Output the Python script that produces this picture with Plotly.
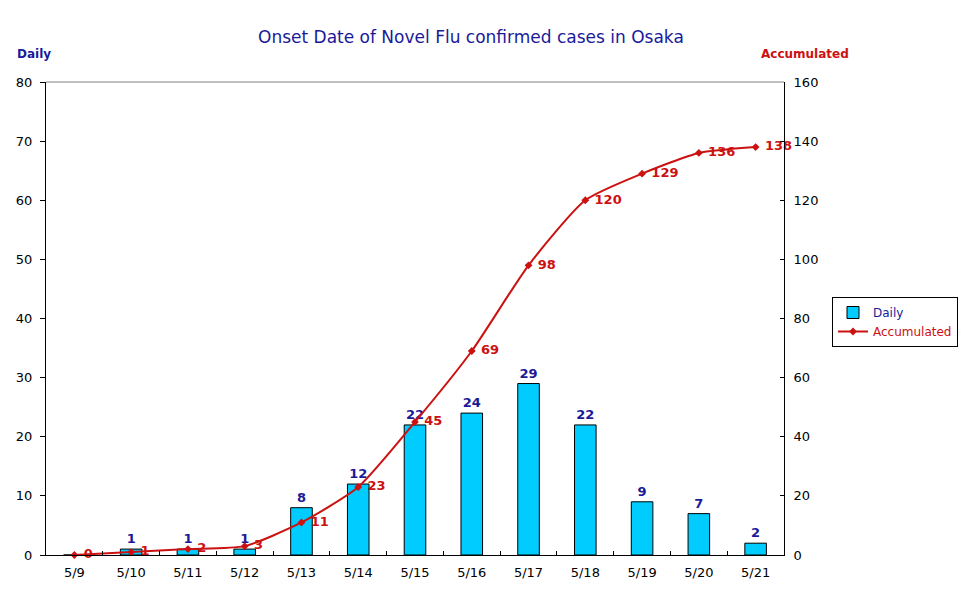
import plotly.graph_objects as go

# 発症日別の確定例（大阪）
dates = ["5/9", "5/10", "5/11", "5/12", "5/13", "5/14", "5/15",
         "5/16", "5/17", "5/18", "5/19", "5/20", "5/21"]
daily = [0, 1, 1, 1, 8, 12, 22, 24, 29, 22, 9, 7, 2]
accumulated = [0, 1, 2, 3, 11, 23, 45, 69, 98, 120, 129, 136, 138]

NAVY = "#1a1a99"
RED = "#cc1111"
CYAN = "#00ccff"
FONT = "DejaVu Sans"

# ページ側の余白 8px を差し引いたサイズ
W, H = 962, 595
OFF = 8

fig = go.Figure()

fig.add_trace(go.Bar(
    x=dates, y=daily,
    name=f"<span style='color:{NAVY}'>Daily</span>",
    marker=dict(color=CYAN, line=dict(color="black", width=1)),
    width=0.38,
    text=[str(v) if v > 0 else "" for v in daily],
    textposition="outside",
    textfont=dict(color=NAVY, size=13, family=FONT, weight="bold"),
    cliponaxis=False,
))

fig.add_trace(go.Scatter(
    x=dates, y=accumulated, yaxis="y2",
    name=f"<span style='color:{RED}'>Accumulated</span>",
    mode="lines+markers+text",
    line=dict(color=RED, width=2, shape="spline", smoothing=0.6),
    marker=dict(symbol="diamond", size=6, color=RED),
    text=[f" {v}" for v in accumulated],
    textposition="middle right",
    textfont=dict(color=RED, size=13, family=FONT, weight="bold"),
    cliponaxis=False,
))

fig.update_layout(
    width=W, height=H,
    paper_bgcolor="white", plot_bgcolor="white",
    margin=dict(l=46 - OFF, r=186, t=82 - OFF, b=48, autoexpand=False),
    font=dict(family=FONT, size=13, color="black"),
    showlegend=True,
    legend=dict(
        x=(832 - OFF) / W, xref="container", xanchor="left",
        y=1 - (297 - OFF) / H, yref="container", yanchor="top",
        bordercolor="black", borderwidth=1,
        font=dict(size=12, family=FONT),
        tracegroupgap=0, itemwidth=30,
    ),
    xaxis=dict(
        type="category", range=[-0.5, 12.5], automargin=False,
        showline=True, linecolor="black", linewidth=1,
        ticks="inside", ticklen=4, tickcolor="black", tickson="boundaries",
        showgrid=False, tickfont=dict(size=13), ticklabelstandoff=5,
    ),
    yaxis=dict(
        range=[0, 80], dtick=10, automargin=False,
        showline=True, linecolor="black", linewidth=1,
        ticks="outside", ticklen=5, tickcolor="black",
        showgrid=False, zeroline=False, tickfont=dict(size=13),
        ticklabelstandoff=5,
    ),
    yaxis2=dict(
        range=[0, 160], dtick=20, overlaying="y", side="right",
        automargin=False,
        showline=True, linecolor="black", linewidth=1,
        ticks="inside", ticklen=4, tickcolor="black",
        showgrid=False, zeroline=False, tickfont=dict(size=13),
        ticklabelstandoff=6,
    ),
    shapes=[dict(type="line", xref="paper", yref="paper",
                 x0=0, x1=1, y0=1, y1=1, line=dict(color="gray", width=1))],
    annotations=[
        dict(text="Onset Date of Novel Flu confirmed cases in Osaka",
             xref="paper", yref="paper", x=(471 - 46) / 738, y=1,
             yshift=45, showarrow=False, xanchor="center", yanchor="middle",
             font=dict(size=17, color=NAVY, family=FONT)),
        dict(text="<b>Daily</b>", xref="paper", yref="paper",
             x=(15 - 46) / 738, y=1, yshift=28, showarrow=False,
             xanchor="left", yanchor="middle",
             font=dict(size=12, color=NAVY, family=FONT)),
        dict(text="<b>Accumulated</b>", xref="paper", yref="paper",
             x=(851 - 46) / 738, y=1, yshift=28, showarrow=False,
             xanchor="right", yanchor="middle",
             font=dict(size=12, color=RED, family=FONT)),
    ],
)

fig.write_html("out.html")
